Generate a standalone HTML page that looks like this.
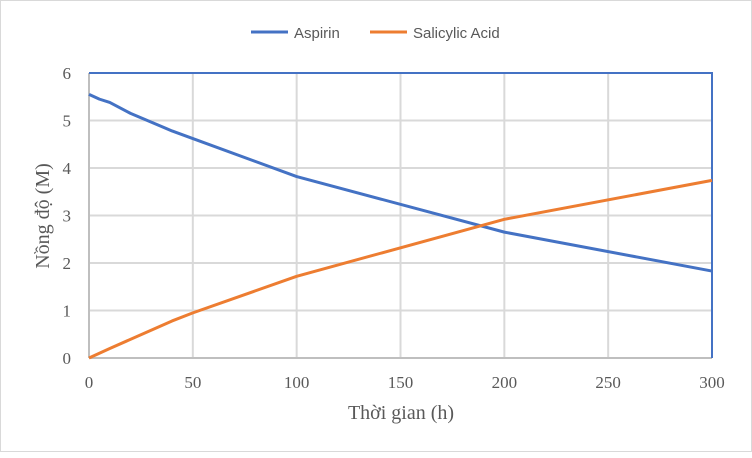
<!DOCTYPE html>
<html><head><meta charset="utf-8"><style>
body{margin:0;background:#fff}
#c{position:relative;width:752px;height:452px;border:1px solid #d9d9d9;box-sizing:border-box;font-family:"Liberation Sans",sans-serif}
</style></head><body>
<div id="c">
<svg id="s" width="752" height="452"></svg>
</div>
<script>
const xTicks=[0,50,100,150,200,250,300];
const yTicks=[0,1,2,3,4,5,6];
const timeA=[0,5,10,20,40,50,100,200,300];
const aspirin=[5.55,5.45,5.38,5.15,4.78,4.62,3.82,2.65,1.83];
const timeS=[0,10,40,50,100,200,300];
const salicylic=[0,0.2,0.78,0.95,1.72,2.92,3.74];
const X0=88,X1=711,Y0=357,Y1=72;
const sx=v=>X0+(v-0)/(300)*(X1-X0);
const sy=v=>Y0-(v/6)*(Y0-Y1);
const s=document.getElementById('s');const NS='http://www.w3.org/2000/svg';
function mk(t,a,txt){const e=document.createElementNS(NS,t);for(const k in a)e.setAttribute(k,a[k]);if(txt!==undefined)e.textContent=txt;s.appendChild(e);return e;}
yTicks.forEach(v=>{const g=mk('line',{x1:X0,x2:X1,y1:sy(v),y2:sy(v),stroke:'#d9d9d9','stroke-width':2});


const t=mk('text',{x:X0-18,y:sy(v)+6,'text-anchor':'end','font-size':17,fill:'#595959','font-family':'Liberation Serif'},v);

});
xTicks.forEach(v=>{const g=mk('line',{x1:sx(v),x2:sx(v),y1:Y1,y2:Y0,stroke:'#d9d9d9','stroke-width':2});


const t=mk('text',{x:sx(v),y:387,'text-anchor':'middle','font-size':17,fill:'#595959','font-family':'Liberation Serif'},v);

});
let e=mk('line',{x1:X0,x2:X1,y1:Y0,y2:Y0,stroke:'#bfbfbf','stroke-width':2});


e=mk('line',{x1:X0,x2:X0,y1:Y1,y2:Y0,stroke:'#bfbfbf','stroke-width':2});


e=mk('polyline',{points:`${X0},${Y1} ${X1},${Y1} ${X1},${Y0}`,fill:'none',stroke:'#4472c4','stroke-width':2});


function series(xs,ys,col,name){const p=mk('polyline',{points:xs.map((x,i)=>sx(x)+','+sy(ys[i])).join(' '),fill:'none',stroke:col,'stroke-width':3,'stroke-linejoin':'round'});

}
series(timeA,aspirin,'#4472c4','aspirin-line');
series(timeS,salicylic,'#ed7d31','salicylic-acid-line');
e=mk('text',{x:400,y:418,'text-anchor':'middle','font-size':20,fill:'#595959','font-family':'Liberation Serif'},'Thời gian (h)');


e=mk('text',{x:0,y:0,'text-anchor':'middle','font-size':20,fill:'#595959','font-family':'Liberation Serif',transform:'translate(48,215) rotate(-90)'},'Nồng độ (M)');


e=mk('line',{x1:250,x2:287,y1:31,y2:31,stroke:'#4472c4','stroke-width':3});


e=mk('text',{x:293,y:37,'font-size':15,fill:'#595959'},'Aspirin');


e=mk('line',{x1:369,x2:406,y1:31,y2:31,stroke:'#ed7d31','stroke-width':3});


e=mk('text',{x:412,y:37,'font-size':15,fill:'#595959'},'Salicylic Acid');


</script>
</body></html>
